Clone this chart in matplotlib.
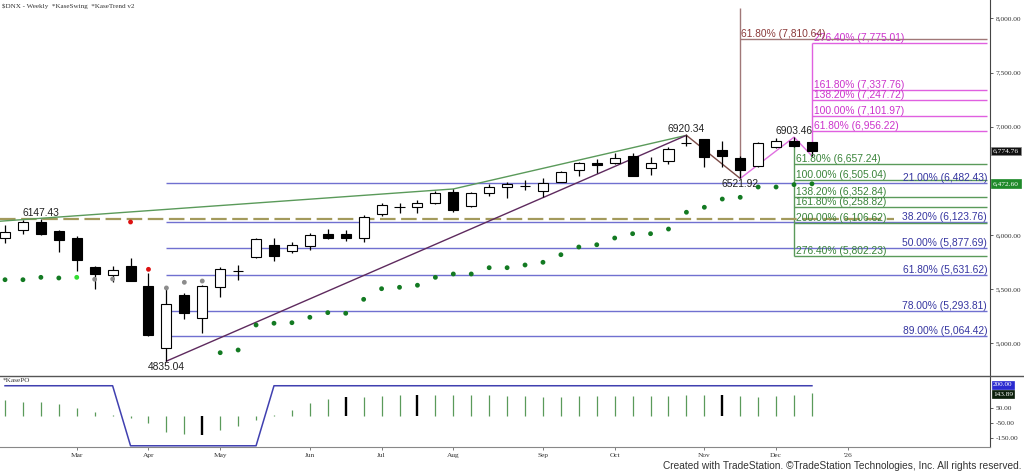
import matplotlib
matplotlib.use("Agg")
import matplotlib.pyplot as plt
from matplotlib.lines import Line2D
import matplotlib.transforms as mtransforms

# ---- weekly candles ($DNX), index 0 = first week shown ----
opens  = [5970, 6046, 6123, 6034, 5972, 5705, 5631, 5717, 5529, 4954,
          5443, 5231, 5523, 5665, 5800, 5905, 5849, 5896, 6006, 6006,
          5970, 6191, 6258, 6256, 6298, 6394, 6271, 6391, 6440, 6457,
          6406, 6492, 6600, 6662, 6662, 6729, 6621, 6686, 6849, 6884,
          6785, 6714, 6640, 6810, 6871, 6856]
highs  = [6092, 6139, 6147.43, 6046, 5994, 5712, 5717, 5788, 5646, 5508,
          5462, 5535, 5702, 5723, 5970, 5972, 5938, 6016, 6055, 6046,
          6185, 6293, 6293, 6323, 6409, 6422, 6400, 6471, 6492, 6508,
          6529, 6594, 6677, 6699, 6754, 6760, 6723, 6815, 6920.34, 6890,
          6868, 6725, 6855, 6898, 6903.46, 6862]
lows   = [5923, 6006, 6000, 5840, 5668, 5500, 5569, 5575, 5070, 4835.04,
          5222, 5098, 5431, 5585, 5785, 5763, 5831, 5862, 5960, 5947,
          5938, 6178, 6200, 6200, 6283, 6210, 6261, 6360, 6339, 6416,
          6354, 6487, 6548, 6570, 6653, 6548, 6554, 6653, 6822, 6631,
          6631, 6521.92, 6630, 6805, 6810, 6730]
closes = [6025, 6117, 6012, 5951, 5769, 5637, 5674, 5578, 5077, 5360,
          5283, 5529, 5686, 5670, 5960, 5806, 5910, 5997, 5975, 5970,
          6169, 6277, 6254, 6298, 6391, 6231, 6391, 6446, 6468, 6454,
          6477, 6585, 6662, 6649, 6714, 6548, 6668, 6794, 6846, 6723,
          6732, 6600, 6847, 6871, 6825, 6774.76]

# KaseSwing dots: value and kind (g=green, l=lime, k=gray, r=red)
swing_dots = [5587, 5587, 5609, 5603, 5609, 5591, 5594, 6120, 5683, 5511,
              5563, 5575, 4913, 4938, 5169, 5185, 5190, 5240, 5283, 5277,
              5406, 5504, 5517, 5536, 5609, 5640, 5640, 5698, 5698, 5723,
              5748, 5818, 5889, 5910, 5972, 6012, 6012, 6055, 6210, 6256,
              6332, 6348, 6443, 6443, 6465, 6472.60]
swing_kind = list("gggglkkrrkkk") + ["g"] * 34

# KasePO histogram and its band line
kasepo = [105, 94, 90, 79, 54, 23, 3, -12, -50, -106,
          -124, -130, -95, -68, -28, 5, 39, 83, 112, 127,
          127, 134, 139, 139, 139, 141, 137, 137, 132, 130,
          127, 127, 132, 132, 134, 132, 132, 132, 137, 137,
          137, 132, 127, 132, 140, 150]
kasepo_black = [11, 19, 23, 40]
kasepo_band = [200] * 7 + [-200] * 8 + [200] * 31

# swing labels / legs
pivot_idx = [9, 38, 41, 44, 45]
pivot_val = [4835.04, 6920.34, 6521.92, 6903.46, 6730]
trend_x = [-0.3, 25, 38]
trend_y = [6127, 6425, 6920.34]
level_dash = 6147.43

# fib levels
retr_pct = ["21.00%", "38.20%", "50.00%", "61.80%", "78.00%", "89.00%"]
retr_val = [6482.43, 6123.76, 5877.69, 5631.62, 5293.81, 5064.42]
down_pct = ["61.80%", "100.00%", "138.20%", "161.80%", "200.00%", "276.40%"]
down_val = [6657.24, 6505.04, 6352.84, 6258.82, 6106.62, 5802.23]
up_pct = ["61.80%", "100.00%", "138.20%", "161.80%", "276.40%"]
up_val = [6956.22, 7101.97, 7247.72, 7337.76, 7775.01]
brown_pct = "61.80%"
brown_val = 7810.64

price_ticks = [5000, 5500, 6000, 7000, 7500, 8000]
po_ticks = [-150, -50, 50]
month_pos = [4, 8, 12, 17, 21, 25, 30, 34, 39, 43, 47]
month_lab = ["Mar", "Apr", "May", "Jun", "Jul", "Aug", "Sep", "Oct", "Nov", "Dec", "'26"]

n = len(opens)
xs = list(range(n))
XMIN, XMAX = -0.28, 54.93
XEND = 54.77

SANS = "Liberation Sans"
SERIF = "Liberation Serif"

fig = plt.figure(figsize=(10.24, 4.73), dpi=100)
ax = fig.add_axes([0, 0.2051, 0.9668, 0.7949])
ax2 = fig.add_axes([0, 0.0550, 0.9668, 0.1501])

# ---------------- main panel ----------------
ax.set_xlim(XMIN, XMAX)
ax.set_ylim(4698, 8170)

# retracement lines (blue)
for p, v in zip(retr_pct, retr_val):
    ax.hlines(v, 9, XEND, color="#7070d0", lw=1.0, zorder=1)
    ax.text(XEND, v, "%s (%s)" % (p, format(v, ",.2f")), ha="right", va="bottom",
            color="#3535a0", fontsize=7.4, family=SANS, zorder=6)

# dashed olive level
ax.hlines(level_dash, XMIN, 49.6, color="#a39a5c", lw=1.6, ls=(0, (7, 2.5)), zorder=2)

# green down-extension box
ax.vlines(44, down_val[-1], 6825, color="#5a9a5a", lw=1.0, zorder=1)
for p, v in zip(down_pct, down_val):
    ax.hlines(v, 44, XEND, color="#5a9a5a", lw=1.0, zorder=1)
    ax.text(44.1, v, "%s (%s)" % (p, format(v, ",.2f")), ha="left", va="bottom",
            color="#3a843a", fontsize=7.4, family=SANS, zorder=6)

# magenta up-extension box
ax.vlines(45, pivot_val[-1], up_val[-1], color="#e060e0", lw=1.0, zorder=1)
for p, v in zip(up_pct, up_val):
    ax.hlines(v, 45, XEND, color="#e060e0", lw=1.0, zorder=1)
    ax.text(45.1, v, "%s (%s)" % (p, format(v, ",.2f")), ha="left", va="bottom",
            color="#cc33cc", fontsize=7.4, family=SANS, zorder=6)

# brown projection
ax.vlines(41, 6521.92, 8095, color="#a07878", lw=1.0, zorder=1)
ax.hlines(brown_val, 41, XEND, color="#a07878", lw=1.0, zorder=1)
ax.text(41.05, brown_val, "%s (%s)" % (brown_pct, format(brown_val, ",.2f")),
        ha="left", va="bottom", color="#8b3a3a", fontsize=7.4, family=SANS, zorder=6)

# trend line and swing legs
ax.plot(trend_x, trend_y, color="#5a9a5a", lw=1.0, zorder=2)
ax.plot(pivot_idx[0:2], pivot_val[0:2], color="#5e2a5e", lw=1.0, zorder=2)
ax.plot(pivot_idx[1:3], pivot_val[1:3], color="#7a4a46", lw=1.0, zorder=2)
ax.plot(pivot_idx[2:5], pivot_val[2:5], color="#e070e0", lw=1.0, zorder=2)

# candles
ax.vlines(xs, lows, highs, color="black", lw=0.9, zorder=3)
bottoms = [min(o, c) for o, c in zip(opens, closes)]
heights = [abs(c - o) for o, c in zip(opens, closes)]
faces = ["white" if c >= o else "black" for o, c in zip(opens, closes)]
ax.bar(xs, heights, bottom=bottoms, width=0.56, color=faces, edgecolor="black",
       linewidth=0.8, zorder=4)

# swing dots
dot_col = {"g": "#137a22", "l": "#33dd33", "k": "#8c8c8c", "r": "#dd1111"}
ax.scatter(xs, swing_dots, s=12, c=[dot_col[k] for k in swing_kind], zorder=5,
           linewidths=0)

# pivot labels
ax.text(2, 6147.43 + 12, "6147.43", ha="center", va="bottom", fontsize=7.4, family=SANS, color="#222")
ax.text(9, 4835.04 - 5, "4835.04", ha="center", va="top", fontsize=7.4, family=SANS, color="#222")
ax.text(38, 6920.34 + 12, "6920.34", ha="center", va="bottom", fontsize=7.4, family=SANS, color="#222")
ax.text(41, 6521.92 - 5, "6521.92", ha="center", va="top", fontsize=7.4, family=SANS, color="#222")
ax.text(44, 6903.46 + 12, "6903.46", ha="center", va="bottom", fontsize=7.4, family=SANS, color="#222")

# axes styling
for s in ["top", "left"]:
    ax.spines[s].set_visible(False)
ax.spines["bottom"].set_visible(False)
ax.spines["right"].set_color("#444444")
ax.spines["right"].set_linewidth(0.8)
ax.set_xticks([])
ax.yaxis.tick_right()
ax.set_yticks(price_ticks)
ax.set_yticklabels([format(v, ",.2f") for v in price_ticks])
ax.tick_params(axis="y", length=2.5, width=0.6, color="#444", pad=1.5,
               labelsize=5.3, labelcolor="#333")
for lab in ax.get_yticklabels():
    lab.set_family(SERIF)

tr = mtransforms.blended_transform_factory(ax.transAxes, ax.transData)
ax.text(1.003, closes[-1], format(closes[-1], ",.2f"), transform=tr, ha="left", va="center",
        fontsize=5.3, family=SERIF, color="white",
        bbox=dict(boxstyle="square,pad=0.25", fc="#111111", ec="#888888", lw=0.5))
ax.text(1.003, swing_dots[-1], format(swing_dots[-1], ",.2f"), transform=tr, ha="left",
        va="center", fontsize=5.3, family=SERIF, color="white",
        bbox=dict(boxstyle="square,pad=0.25", fc="#1f8a2a", ec="#1f8a2a", lw=0.5))

# ---------------- KasePO panel ----------------
ax2.set_xlim(XMIN, XMAX)
ax2.set_ylim(-208, 265)
bar_col = ["black" if i in kasepo_black else "#5a9a5a" for i in xs]
bar_lw = [1.7 if i in kasepo_black else 0.9 for i in xs]
ax2.vlines(xs, 0, kasepo, colors=bar_col, linewidths=bar_lw, zorder=2)
ax2.plot(xs, kasepo_band, color="#4040b0", lw=1.1, zorder=3)

for s in ["top", "left"]:
    ax2.spines[s].set_visible(False)
ax2.spines["bottom"].set_color("#888888")
ax2.spines["bottom"].set_linewidth(0.8)
ax2.spines["right"].set_color("#444444")
ax2.spines["right"].set_linewidth(0.8)
ax2.yaxis.tick_right()
ax2.set_yticks(po_ticks)
ax2.set_yticklabels([format(v, ".2f") for v in po_ticks])
ax2.tick_params(axis="y", length=2.5, width=0.6, color="#444", pad=1.5,
                labelsize=5.3, labelcolor="#333")
ax2.set_xticks(month_pos)
ax2.set_xticklabels(month_lab)
ax2.tick_params(axis="x", length=2.5, width=0.6, color="#666", pad=2,
                labelsize=5.3, labelcolor="#333")
for lab in ax2.get_yticklabels() + ax2.get_xticklabels():
    lab.set_family(SERIF)
ax2.text(0.003, 0.97, "*KasePO", transform=ax2.transAxes, ha="left", va="top",
         fontsize=5.2, family=SERIF, color="#333")

tr2 = mtransforms.blended_transform_factory(ax2.transAxes, ax2.transData)
ax2.text(1.003, 205, "200.00", transform=tr2, ha="left", va="center", fontsize=5.2,
         family=SERIF, color="white",
         bbox=dict(boxstyle="square,pad=0.2", fc="#2a2ad0", ec="#2a2ad0", lw=0.5))
ax2.text(1.003, 143.89, "143.89", transform=tr2, ha="left", va="center", fontsize=5.2,
         family=SERIF, color="white",
         bbox=dict(boxstyle="square,pad=0.2", fc="#0c1f0c", ec="#0c1f0c", lw=0.5))

# panel separator and headers
fig.add_artist(Line2D([0, 1], [0.2051, 0.2051], color="#555555", lw=1.0))
fig.text(0.002, 0.992, "$DNX - Weekly  *KaseSwing  *KaseTrend v2", ha="left", va="top",
         fontsize=5.1, family=SERIF, color="#333")
fig.text(0.998, 0.004, "Created with TradeStation. \u00a9TradeStation Technologies, Inc. All rights reserved.",
         ha="right", va="bottom", fontsize=7.3, family=SANS, color="#333")

fig.savefig("out.png", dpi=100)
